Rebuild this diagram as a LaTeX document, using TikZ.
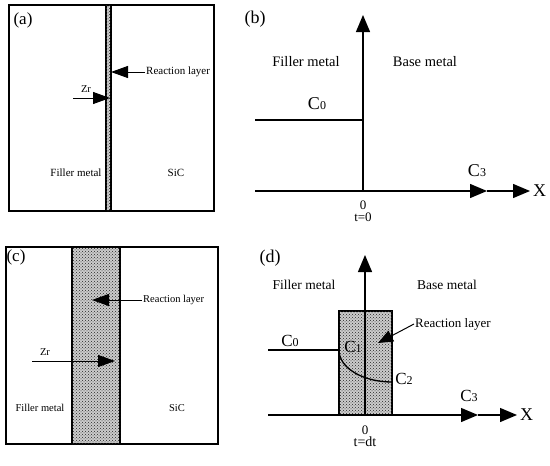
\documentclass[tikz,border=0pt]{standalone}
\usepackage{fontspec}
\setmainfont{Liberation Serif}
\usetikzlibrary{arrows.meta,positioning,patterns}

\newcommand{\conc}[1]{C{\fontsize{12}{12}\selectfont #1}}

\begin{document}
\begin{tikzpicture}[x=1pt,y=-1pt,
panel/.style={draw,line width=1.2pt},
layer/.style={draw,line width=1.2pt,fill=gray!40,postaction={pattern=crosshatch dots,pattern color=black!85}},
note/.style={font=\fontsize{10.5}{12}\selectfont,inner sep=1pt},
lbl/.style={font=\fontsize{14.5}{16}\selectfont,inner sep=1pt},
tag/.style={font=\fontsize{18}{20}\selectfont,inner sep=1pt},
conclbl/.style={font=\fontsize{18}{20}\selectfont,inner sep=1pt},
arr/.style={-{Triangle[length=17pt,width=12pt]},line width=1pt},
axis/.style={-{Triangle[length=17pt,width=14pt]},line width=1.3pt}]
\useasboundingbox (0,0) rectangle (550,466);

% (a) thin reaction layer
\draw[panel] (9,5) rectangle (214,211);
\draw[layer] (106,5) rectangle (111,211);
\node[tag,font=\fontsize{17}{18}\selectfont] (taga) at (23,20) {(a)};
\node[note,font=\fontsize{11}{12}\selectfont,anchor=west] (rla) at (145,72) {Reaction layer};
\coordinate (rla tip) at (111,72);
\draw[arr] (rla) -- (rla tip);
\node[note] (zra) at (86,89) {Zr};
\coordinate (zra tail) at (73,98);
\coordinate (zra tip) at (110,98);
\draw[arr] (zra tail) -- (zra tip);
\node[note,font=\fontsize{11}{12}\selectfont] (fma) at (76,173) {Filler metal};
\node[note,font=\fontsize{11}{12}\selectfont] (sica) at (176,173) {SiC};

% (b) profile at t=0
\coordinate (ob) at (363,191);
\coordinate (yb) at (363,15);
\coordinate (xb start) at (255,191);
\coordinate (xb mid) at (487,191);
\coordinate (xb end) at (530,191);
\draw[axis] (ob) -- (yb);
\draw[axis] (xb start) -- (xb mid);
\draw[axis] (xb mid) -- (xb end);
\draw[line width=1.3pt] (255,120) coordinate (c0b start) -- (c0b start -| ob);
\node[tag] (tagb) at (255,19) {(b)};
\node[lbl] (fmb) at (306,62) {Filler metal};
\node[lbl] (bmb) at (425,62) {Base metal};
\node[conclbl] (c0b) at (317,104) {\conc{0}};
\node[conclbl] (c3b) at (477,171) {\conc{3}};
\node[conclbl,anchor=west] (xb) at (532,191) {X};
\node[lbl,font=\fontsize{13}{14}\selectfont] (zerob) at (363,205) {0};
\node[lbl,font=\fontsize{13}{14}\selectfont,below=1pt of zerob] (tb) {t=0};

% (c) thick reaction layer
\draw[panel] (6,247) rectangle (218,444);
\draw[layer] (72,247) rectangle (120,444);
\node[tag,font=\fontsize{17}{18}\selectfont] (tagc) at (16,257) {(c)};
\node[note,anchor=west] (rlc) at (142,300) {Reaction layer};
\coordinate (rlc tip) at (92,300);
\draw[arr] (rlc) -- (rlc tip);
\node[note] (zrc) at (45,352) {Zr};
\coordinate (zrc tail) at (32,361);
\coordinate (zrc tip) at (115,361);
\draw[arr] (zrc tail) -- (zrc tip);
\node[note] (fmc) at (40,408) {Filler metal};
\node[note] (sicc) at (177,408) {SiC};

% (d) profile at t=dt
\draw[layer,line width=1.3pt] (339,311) rectangle (392,415);
\coordinate (od) at (365,415);
\coordinate (yd) at (365,255);
\coordinate (xd start) at (268,415);
\coordinate (xd mid) at (478,415);
\coordinate (xd end) at (517,415);
\draw[axis] (od) -- (yd);
\draw[axis] (xd start) -- (xd mid);
\draw[axis] (xd mid) -- (xd end);
\coordinate (c1d) at (339,350);
\coordinate (c2d) at (392,382);
\draw[line width=1.3pt] (268,350) -- (c1d);
\draw[line width=1.3pt] (c1d) .. controls (339,368) and (363,382) .. (c2d);
\node[tag] (tagd) at (270,258) {(d)};
\node[lbl,font=\fontsize{13.5}{15}\selectfont] (fmd) at (304,285) {Filler metal};
\node[lbl,font=\fontsize{13.5}{15}\selectfont] (bmd) at (447,285) {Base metal};
\node[lbl,font=\fontsize{13}{15}\selectfont,anchor=west] (rld) at (414,324) {Reaction layer};
\coordinate (rld tip) at (378,343);
\draw[arr,-{Triangle[length=15pt,width=12pt]}] (rld.west) -- (rld tip);
\node[conclbl,font=\fontsize{17}{18}\selectfont] (c0d) at (290,341) {\conc{0}};
\node[conclbl,font=\fontsize{17}{18}\selectfont] (c1dl) at (353,347) {\conc{1}};
\node[conclbl,font=\fontsize{17}{18}\selectfont] (c2dl) at (404,379) {\conc{2}};
\node[conclbl,font=\fontsize{17}{18}\selectfont] (c3d) at (469,396) {\conc{3}};
\node[conclbl,anchor=west] (xd) at (519,415) {X};
\node[lbl,font=\fontsize{13}{14}\selectfont] (zerod) at (365,430) {0};
\node[lbl,font=\fontsize{14}{15}\selectfont,below=0pt of zerod] (td) {t=dt};
\end{tikzpicture}
\end{document}
